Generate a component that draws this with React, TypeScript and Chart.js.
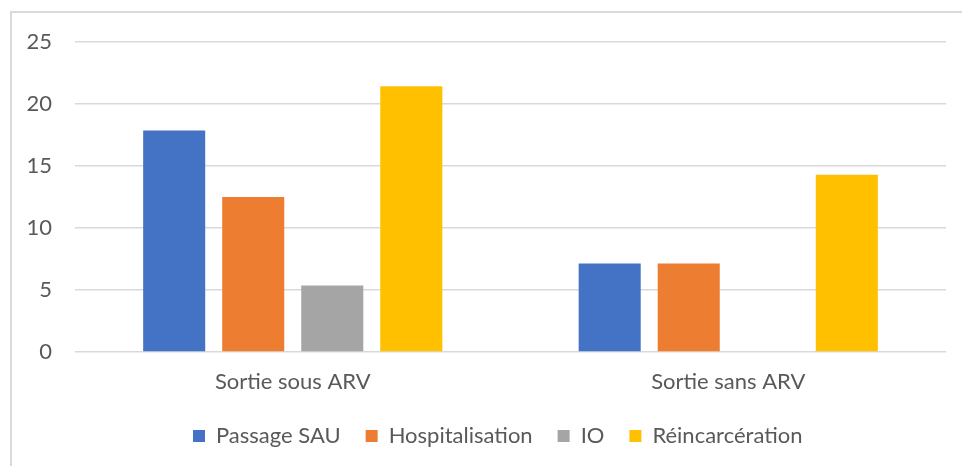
import React, { useEffect, useRef } from "react";
import { Chart, registerables } from "chart.js";

Chart.register(...registerables);

const categories = ["Sortie sous ARV", "Sortie sans ARV"];
const seriesNames = ["Passage SAU", "Hospitalisation", "IO", "Réincarcération"];
const passageSAU = [17.86, 7.14];
const hospitalisation = [12.5, 7.14];
const io = [5.36, 0];
const reincarceration = [21.43, 14.29];
const colors = ["#4472C4", "#ED7D31", "#A5A5A5", "#FFC000"];
const yTicks = { min: 0, max: 25, step: 5 };

const FONT = "Lato, 'Open Sans', sans-serif";
const FS = 22;
const TEXT = "#595959";
const GRID = "#d9d9d9";
const LEGEND_PAD = 25;

export default function App() {
  const ref = useRef<HTMLCanvasElement | null>(null);
  useEffect(() => {
    const canvas = ref.current;
    if (!canvas) return;
    const values = [passageSAU, hospitalisation, io, reincarceration];
    const legendFix = {
      id: "legendFix",
      beforeInit(chart: any) {
        const orig = chart.legend.fit;
        chart.legend.fit = function () {
          orig.call(this);
          this.height = 66;
        };
      },
      afterLayout(chart: any) {
        const lg = chart.legend;
        const w = lg.right - lg.left;
        lg.left = 193 - LEGEND_PAD;
        lg.right = lg.left + w;
      },
    };
    const chart = new Chart(canvas, {
      type: "bar",
      data: {
        labels: categories,
        datasets: seriesNames.map((name, i) => ({
          label: name,
          data: values[i],
          backgroundColor: colors[i],
          borderWidth: 0,
          categoryPercentage: 0.726,
          barPercentage: 0.785,
        })),
      },
      options: {
        animation: false,
        responsive: false,
        maintainAspectRatio: false,
        layout: { padding: { left: 0, top: 42, right: 16, bottom: 0 } },
        plugins: {
          tooltip: { enabled: false },
          legend: {
            position: "bottom",
            align: "start",
            labels: {
              boxWidth: 12,
              boxHeight: 12,
              padding: LEGEND_PAD,
              color: TEXT,
              font: { family: FONT, size: FS },
            },
          },
        },
        scales: {
          x: {
            grid: { display: false, drawTicks: false },
            border: { display: false },
            ticks: { color: TEXT, font: { family: FONT, size: FS }, padding: 17 },
            afterFit: (s: any) => {
              s.height = 48;
            },
          },
          y: {
            min: yTicks.min,
            max: yTicks.max,
            ticks: {
              stepSize: yTicks.step,
              color: TEXT,
              font: { family: FONT, size: FS },
              padding: 23,
            },
            grid: { color: GRID, lineWidth: 1.5, drawTicks: false },
            border: { display: false },
            afterFit: (s: any) => {
              s.width = 75;
            },
          },
        },
      },
      plugins: [legendFix],
    });
    return () => chart.destroy();
  }, []);
  return (
    <div
      style={{
        position: "fixed",
        left: 0,
        top: 0,
        width: 962,
        height: 466,
        overflow: "hidden",
        background: "#fff",
      }}
    >
      <div
        style={{
          position: "absolute",
          left: 10,
          top: 11,
          width: 1000,
          height: 500,
          border: "2px solid #d9d9d9",
        }}
      />
      <canvas
        ref={ref}
        width={962}
        height={466}
        style={{ position: "absolute", left: 0, top: 0, width: 962, height: 466 }}
      />
    </div>
  );
}
